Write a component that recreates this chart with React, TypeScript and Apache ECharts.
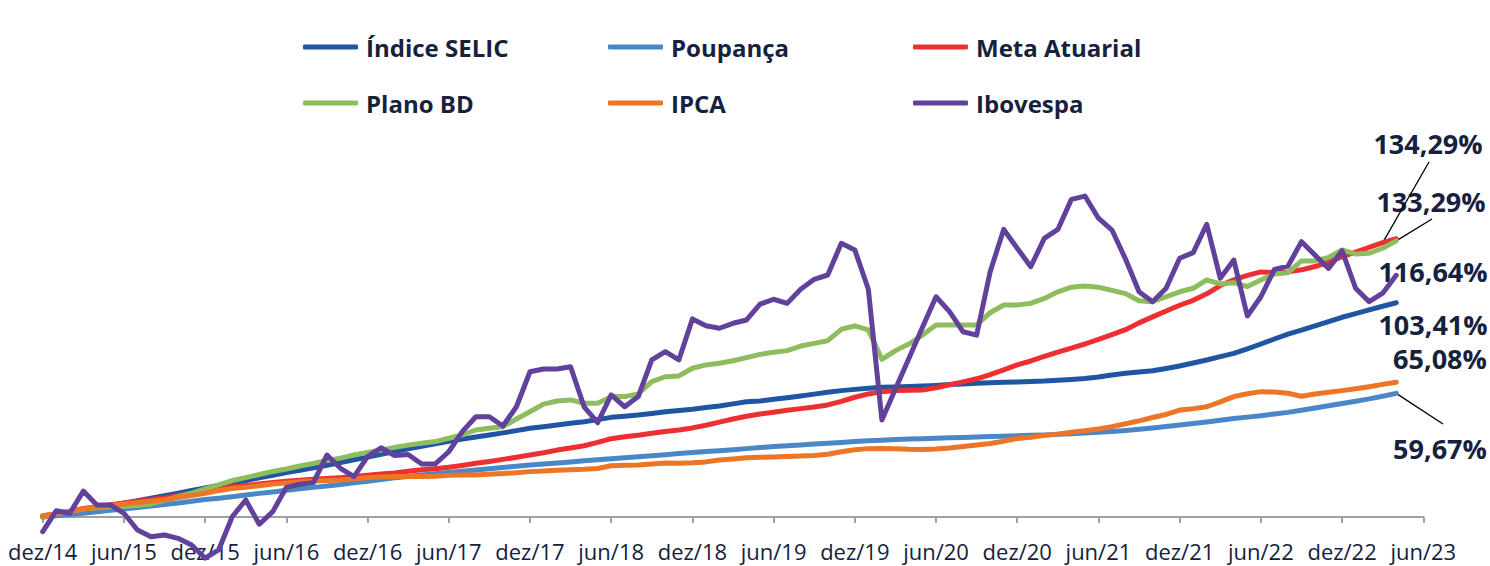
import React, { useEffect, useRef } from 'react';
import * as echarts from 'echarts';

const MONTHS = ['jan', 'fev', 'mar', 'abr', 'mai', 'jun', 'jul', 'ago', 'set', 'out', 'nov', 'dez'];
// dez/14 ... jun/23
const CATEGORIES: string[] = [];
for (let k = 0; k <= 102; k++) {
  const m = (11 + k) % 12;
  const y = 14 + Math.floor((11 + k) / 12);
  CATEGORIES.push(`${MONTHS[m]}/${y}`);
}

const SELIC = [
  0, 1.0, 2.1, 3.2, 4.3, 5.5, 6.7, 7.9, 9.1, 10.3,
  11.5, 12.8, 14.0, 15.2, 16.4, 17.6, 18.9, 20.1, 21.4, 22.6,
  23.8, 25.0, 26.3, 27.6, 28.9, 30.3, 31.6, 32.9, 34.1, 35.3,
  36.5, 37.6, 38.6, 39.6, 40.6, 41.7, 42.8, 43.6, 44.4, 45.2,
  46.0, 47.0, 48.1, 48.6, 49.2, 50.0, 50.8, 51.4, 52.0, 52.8,
  53.6, 54.6, 55.6, 56.0, 56.8, 57.6, 58.4, 59.3, 60.2, 61.0,
  61.6, 62.1, 62.6, 62.8, 63.0, 63.2, 63.5, 63.9, 64.2, 64.5,
  64.8, 65.0, 65.2, 65.4, 65.6, 66.0, 66.4, 66.9, 67.6, 68.5,
  69.4, 70.0, 70.6, 71.7, 72.9, 74.3, 75.8, 77.4, 79.0, 81.2,
  83.5, 85.9, 88.3, 90.2, 92.2, 94.3, 96.4, 98.2, 100.0, 101.7,
  103.41,
];

const POUPANCA = [
  0, 0.6, 1.2, 1.8, 2.5, 3.2, 3.9, 4.6, 5.3, 6.0,
  6.8, 7.6, 8.4, 9.1, 9.8, 10.6, 11.4, 12.1, 12.9, 13.6,
  14.3, 15.0, 15.7, 16.5, 17.3, 18.1, 18.9, 19.6, 20.3, 20.9,
  21.5, 22.1, 22.7, 23.3, 23.9, 24.5, 25.1, 25.6, 26.1, 26.6,
  27.1, 27.6, 28.1, 28.6, 29.1, 29.6, 30.1, 30.6, 31.1, 31.6,
  32.0, 32.5, 33.0, 33.5, 34.0, 34.4, 34.8, 35.2, 35.6, 36.0,
  36.4, 36.8, 37.1, 37.4, 37.6, 37.8, 38.0, 38.2, 38.4, 38.6,
  38.8, 39.0, 39.2, 39.4, 39.6, 39.9, 40.2, 40.5, 40.9, 41.3,
  41.8, 42.4, 43.0, 43.7, 44.4, 45.1, 45.9, 46.7, 47.5, 48.2,
  48.9, 49.7, 50.5, 51.5, 52.6, 53.7, 54.8, 55.9, 57.0, 58.3,
  59.67,
];

const META_ATUARIAL = [
  0.6, 1.6, 2.8, 4.1, 5.0, 5.9, 6.8, 7.6, 8.4, 9.2,
  10.3, 11.4, 12.5, 13.7, 14.6, 15.2, 15.9, 16.6, 17.2, 17.8,
  18.2, 18.6, 19.0, 19.5, 20.1, 20.7, 21.3, 22.1, 22.8, 23.3,
  24.0, 24.9, 25.9, 26.8, 27.8, 28.8, 29.9, 31.0, 32.3, 33.3,
  34.4, 36.0, 37.8, 38.7, 39.5, 40.4, 41.3, 42.0, 43.0, 44.3,
  45.8, 47.3, 48.6, 49.7, 50.6, 51.5, 52.3, 53.1, 54.1, 55.8,
  57.8, 59.4, 60.5, 61.1, 61.2, 61.3, 62.4, 63.8, 65.2, 66.7,
  68.7, 71.0, 73.4, 75.3, 77.5, 79.6, 81.5, 83.5, 85.7, 88.0,
  90.4, 93.7, 96.6, 99.4, 102.2, 104.6, 107.7, 111.7, 114.5, 116.6,
  118.3, 118.0, 118.3, 119.3, 120.9, 123.0, 125.6, 127.9, 130.1, 132.4,
  134.29,
];

const PLANO_BD = [
  0, 1.5, 2.7, 3.8, 4.5, 5.0, 5.2, 5.6, 6.3, 8.0,
  9.8, 11.5, 13.6, 15.5, 17.6, 19.0, 20.5, 22.0, 23.2, 24.6,
  25.8, 27.3, 28.4, 29.9, 31.2, 32.3, 33.6, 34.7, 35.6, 36.4,
  38.0, 39.6, 42.0, 42.8, 43.6, 47.3, 50.8, 54.5, 56.0, 56.5,
  54.9, 54.9, 58.1, 58.1, 59.4, 65.3, 67.7, 68.1, 71.8, 73.4,
  74.2, 75.4, 76.9, 78.5, 79.5, 80.3, 82.5, 83.8, 85.1, 90.6,
  92.2, 90.3, 76.1, 80.3, 83.5, 87.8, 92.7, 92.7, 92.7, 92.7,
  98.6, 102.3, 102.3, 103.1, 105.5, 108.7, 110.9, 111.5, 110.9, 109.4,
  107.8, 104.4, 103.9, 106.3, 108.7, 110.4, 114.4, 112.5, 113.1, 111.2,
  114.4, 117.3, 117.9, 123.6, 123.6, 125.3, 128.9, 126.9, 127.3, 129.7,
  133.29,
];

const IPCA = [
  0.5, 1.4, 2.6, 3.9, 4.7, 5.5, 6.3, 7.0, 7.6, 8.3,
  9.4, 10.4, 11.5, 12.8, 13.8, 14.4, 15.1, 15.9, 16.4, 17.0,
  17.4, 17.6, 17.9, 18.4, 19.0, 19.3, 19.5, 19.5, 19.6, 19.7,
  20.1, 20.3, 20.3, 20.6, 21.0, 21.4, 21.9, 22.2, 22.6, 22.8,
  23.0, 23.4, 24.7, 25.0, 25.1, 25.6, 26.1, 26.0, 26.2, 26.6,
  27.5, 28.0, 28.6, 28.8, 29.0, 29.2, 29.4, 29.7, 30.3, 31.5,
  32.5, 33.0, 33.1, 33.0, 32.7, 32.6, 32.8, 33.3, 34.0, 34.7,
  35.5, 36.6, 37.9, 38.5, 39.4, 40.0, 40.9, 41.6, 42.5, 43.6,
  45.0, 46.4, 48.0, 49.5, 51.6, 52.3, 53.2, 55.6, 58.1, 59.5,
  60.5, 60.3, 59.7, 58.3, 59.4, 60.2, 61.0, 61.9, 62.9, 64.0,
  65.08,
];

const IBOVESPA = [
  -7.1, 3.0, 1.8, 12.5, 5.8, 5.8, 1.8, -6.3, -9.5, -8.7,
  -10.3, -13.5, -19.9, -15.9, 0.1, 8.2, -3.5, 2.6, 14.3, 15.8,
  16.6, 29.9, 23.5, 19.5, 29.1, 33.4, 29.7, 30.2, 25.6, 25.6,
  31.5, 41.2, 48.4, 48.4, 43.9, 53.2, 70.1, 71.4, 71.4, 72.5,
  53.2, 45.5, 58.9, 53.2, 58.1, 75.8, 79.8, 75.8, 95.6, 92.3,
  91.1, 93.5, 95.1, 102.7, 105.1, 103.1, 109.9, 114.7, 116.8, 132.1,
  128.9, 109.9, 46.8, 61.8, 76.6, 91.6, 106.3, 99.1, 89.4, 87.8,
  118.4, 138.8, 129.7, 120.8, 134.5, 138.8, 153.3, 154.9, 144.2, 138.5,
  124.5, 108.7, 103.9, 110.4, 124.9, 127.6, 141.3, 115.2, 124.0, 97.0,
  106.3, 119.5, 121.1, 132.9, 126.4, 120.0, 128.5, 110.4, 103.9, 108.0,
  116.64,
];

const SERIES_NAMES = ['Índice SELIC', 'Poupança', 'Meta Atuarial', 'Plano BD', 'IPCA', 'Ibovespa'];
const SERIES_DATA = [SELIC, POUPANCA, META_ATUARIAL, PLANO_BD, IPCA, IBOVESPA];
const SERIES_COLORS = ['#1f55a3', '#4a87c6', '#ee2f32', '#8dbd5d', '#ec7526', '#61419b'];

const TEXT_COLOR = '#15213d';
const FONT = "'Open Sans', sans-serif";

const fmt = (v: number) => v.toFixed(2).replace('.', ',') + '%';

export default function App() {
  const ref = useRef<HTMLDivElement>(null);

  useEffect(() => {
    if (!ref.current) return;
    const chart = echarts.init(ref.current, null, { renderer: 'svg' });

    const series = SERIES_NAMES.map((name, i) => ({
      name,
      type: 'line',
      data: SERIES_DATA[i],
      symbol: 'none',
      showSymbol: false,
      clip: false,
      smooth: false,
      lineStyle: { color: SERIES_COLORS[i], width: 5, cap: 'round', join: 'round' },
      itemStyle: { color: SERIES_COLORS[i] },
      emphasis: { disabled: true },
    }));

    const colLeft = [303, 608, 913];
    const rowTop = [35, 91];
    const legends = SERIES_NAMES.map((name, i) => ({
      left: colLeft[i % 3],
      top: rowTop[Math.floor(i / 3)],
      orient: 'horizontal',
      icon: 'roundRect',
      itemWidth: 55,
      itemHeight: 5,
      itemGap: 0,
      selectedMode: false,
      padding: 0,
      data: [name],
      textStyle: {
        color: TEXT_COLOR,
        fontFamily: FONT,
        fontWeight: 'bold',
        fontSize: 24,
        padding: [0, 0, 0, 3],
      },
    }));

    chart.setOption({
      animation: false,
      backgroundColor: '#ffffff',
      legend: legends,
      grid: { left: 42.7, right: 66.7, top: 185.5, bottom: 49, containLabel: false, outerBoundsMode: 'none' },
      xAxis: {
        type: 'category',
        data: CATEGORIES,
        boundaryGap: false,
        axisLine: { show: true, onZero: true, lineStyle: { color: '#a0a0a0', width: 2 } },
        axisTick: { show: true, interval: 5, length: 6, lineStyle: { color: '#a0a0a0', width: 2 } },
        axisLabel: {
          interval: 5,
          margin: 23,
          color: TEXT_COLOR,
          fontFamily: FONT,
          fontSize: 22,
          showMinLabel: true,
          showMaxLabel: true,
          hideOverlap: false,
        },
        splitLine: { show: false },
      },
      yAxis: {
        type: 'value',
        min: 0,
        max: 160,
        show: false,
        splitLine: { show: false },
      },
      series,
    });

    const px = (idx: number, val: number) => chart.convertToPixel({ gridIndex: 0 }, [idx, val]) as number[];
    const last = SELIC.length - 1;

    const labelSpecs = [
      { text: fmt(META_ATUARIAL[last]), x: 1428, y: 143 },
      { text: fmt(PLANO_BD[last]), x: 1431, y: 201 },
      { text: fmt(IBOVESPA[last]), x: 1433, y: 271 },
      { text: fmt(SELIC[last]), x: 1433, y: 324 },
      { text: fmt(IPCA[last]), x: 1440, y: 358 },
      { text: fmt(POUPANCA[last]), x: 1440, y: 448 },
    ];

    const metaPt = px(last - 1, META_ATUARIAL[last - 1]);
    const planoPt = px(last, PLANO_BD[last]);
    const poupPt = px(last, POUPANCA[last]);

    const graphic: any[] = labelSpecs.map((l) => ({
      type: 'text',
      x: l.x,
      y: l.y,
      silent: true,
      style: {
        text: l.text,
        fill: TEXT_COLOR,
        font: `bold 27px ${FONT}`,
        textAlign: 'center',
        textVerticalAlign: 'middle',
      },
    }));
    const leader = (x1: number, y1: number, pt: number[]) => ({
      type: 'line',
      silent: true,
      shape: { x1, y1, x2: pt[0], y2: pt[1] },
      style: { stroke: '#000000', lineWidth: 1.3 },
    });
    graphic.push(leader(1429, 162, metaPt));
    graphic.push(leader(1432, 219, planoPt));
    graphic.push(leader(1443, 424, poupPt));

    chart.setOption({ graphic });

    return () => chart.dispose();
  }, []);

  return (
    <div
      ref={ref}
      style={{ position: 'fixed', left: 0, top: 0, width: 1490, height: 566, background: '#ffffff' }}
    />
  );
}
